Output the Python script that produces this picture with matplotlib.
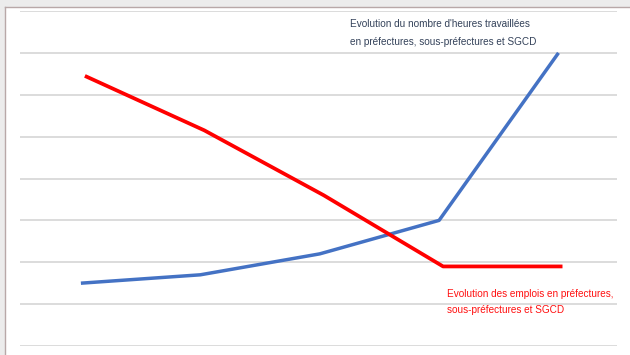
import matplotlib
matplotlib.use("Agg")
import matplotlib.pyplot as plt
import matplotlib.transforms as mtransforms
from matplotlib.patches import Rectangle
from matplotlib.lines import Line2D

# Data (arbitrary units; gridlines every 1 unit)
periods = [0, 1, 2, 3, 4]
heures = [1.5, 1.7, 2.2, 3.0, 7.0]
emplois = [6.45, 5.15, 3.6, 1.9, 1.9]
label_heures = "Evolution du nombre d'heures travaillées\nen préfectures, sous-préfectures et SGCD"
label_emplois = "Evolution des emplois en préfectures,\nsous-préfectures et SGCD"

W, H = 630, 355
fig = plt.figure(figsize=(W / 100, H / 100), dpi=100)
fig.patch.set_facecolor("white")

# Outer screenshot frame
fig.patches.append(Rectangle((0, (H - 7) / H), 1, 7 / H, transform=fig.transFigure,
                             facecolor="#ececec", edgecolor="none", zorder=0))
fig.patches.append(Rectangle((0, 0), 5 / W, 1, transform=fig.transFigure,
                             facecolor="#ececec", edgecolor="none", zorder=0))
fig.lines.append(Line2D([5 / W, 1], [(H - 7) / H] * 2, transform=fig.transFigure,
                        color="#b8a8a8", lw=1.0))
fig.lines.append(Line2D([5 / W, 5 / W], [0, (H - 7) / H], transform=fig.transFigure,
                        color="#b8a8a8", lw=1.0))

ax = fig.add_axes([20 / W, (H - 346) / H, (617 - 20) / W, (346 - 11) / H])
ax.set_xlim(-0.51, 4.49)
ax.set_ylim(0, 8)
for s in ax.spines.values():
    s.set_visible(False)
ax.set_xticks([])
ax.set_yticks(range(0, 9))
ax.tick_params(left=False, labelleft=False)
ax.grid(axis="y", color="#dcdcdc", lw=1.4)
ax.set_axisbelow(True)
ax.patch.set_alpha(0)

ax.plot(periods, heures, color="#4472C4", lw=2.5, solid_capstyle="butt", zorder=3)
off = mtransforms.ScaledTranslation(4 / 100, 0, fig.dpi_scale_trans)
ax.plot(periods, emplois, color="#FF0000", lw=2.7, solid_capstyle="butt",
        transform=ax.transData + off, zorder=3)

fig.text(350 / W, (H - 33) / H, label_heures, color="#34425a", fontsize=7.2,
         family="Liberation Sans", va="center", ha="left", linespacing=2.0)
fig.text(447 / W, (H - 302) / H, label_emplois, color="#ff1010", fontsize=7.2,
         family="Liberation Sans", va="center", ha="left", linespacing=1.75)

fig.savefig("out.png", dpi=100)
